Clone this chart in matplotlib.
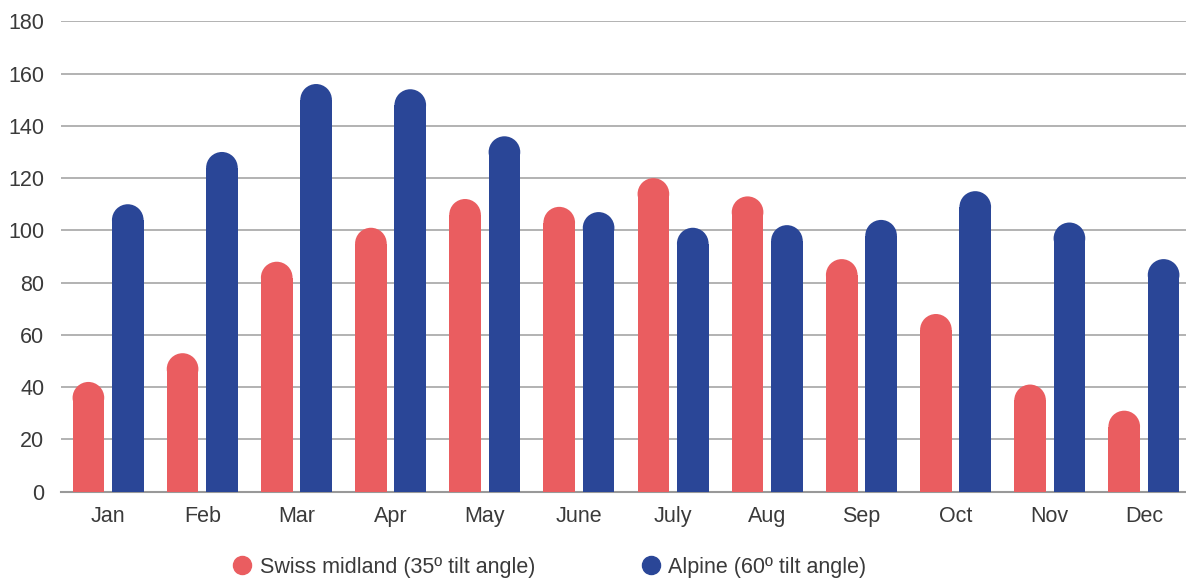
import matplotlib
matplotlib.use('Agg')
import matplotlib.pyplot as plt
from matplotlib.patches import Ellipse
from matplotlib.lines import Line2D
import numpy as np

months = ['Jan', 'Feb', 'Mar', 'Apr', 'May', 'June', 'July', 'Aug', 'Sep', 'Oct', 'Nov', 'Dec']
midland = [42, 53, 88, 101, 112, 109, 120, 113, 89, 68, 41, 31]
alpine = [110, 130, 156, 154, 136, 107, 101, 102, 104, 115, 103, 89]
series_names = ['Swiss midland (35º tilt angle)', 'Alpine (60º tilt angle)']

RED = '#EA5D60'
BLUE = '#2A4697'
TXT = '#3a3a3a'

plt.rcParams['font.family'] = ['Liberation Sans', 'DejaVu Sans']

W, H = 11.86, 5.78
fig = plt.figure(figsize=(W, H), dpi=100)
ax_l, ax_b = 61 / 1186, 1 - 491.7 / 578
ax_w, ax_h = 1130 / 1186, (491.7 - 21.3) / 578
ax = fig.add_axes([ax_l, ax_b, ax_w, ax_h])

ymax = 180
ax.set_xlim(-0.5, 11.5)
ax.set_ylim(0, ymax)

bw = 0.336
off = 0.209
x = np.arange(len(months))

# size of the round cap in data units (circle in pixels -> ellipse in data)
px_x = ax_w * W * 100 / 12
px_y = ax_h * H * 100 / ymax
r_y = (bw * px_x / 2) / px_y

for vals, dx, col in [(midland, -off, RED), (alpine, off, BLUE)]:
    v = np.array(vals, dtype=float)
    ax.bar(x + dx, v - r_y, width=bw, color=col, zorder=3, linewidth=0)
    for xi, vi in zip(x + dx, v):
        ax.add_patch(Ellipse((xi, vi - r_y), bw, 2 * r_y, color=col, zorder=3, linewidth=0))

ax.set_yticks(range(0, 181, 20))
ax.grid(axis='y', color='#adadad', linewidth=1.3, zorder=0)
ax.set_axisbelow(True)
for s in ['top', 'right', 'left']:
    ax.spines[s].set_visible(False)
ax.spines['bottom'].set_color('#999999')
ax.spines['bottom'].set_linewidth(1.5)

ax.set_xticks(x)
ax.set_xticklabels(months)
ax.tick_params(axis='both', length=0, labelsize=15.5, colors=TXT)
ax.tick_params(axis='y', pad=12)
ax.tick_params(axis='x', pad=10)

handles = [Line2D([], [], marker='o', linestyle='', markersize=13, color=RED),
           Line2D([], [], marker='o', linestyle='', markersize=13, color=BLUE)]
fig.legend(handles, series_names, loc='center', bbox_to_anchor=(549 / 1186, 1 - 567 / 578),
           ncol=2, frameon=False, fontsize=15.5, handletextpad=0.3, columnspacing=4.9,
           labelcolor=TXT, handlelength=1.0)

fig.savefig('out.png', dpi=100)
